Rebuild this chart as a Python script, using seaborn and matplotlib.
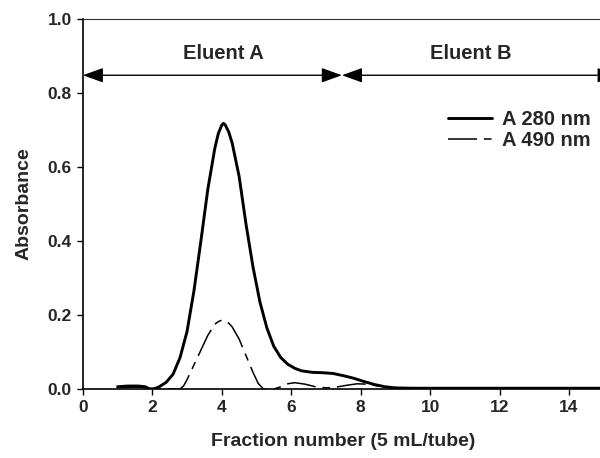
import matplotlib
matplotlib.use('Agg')
import matplotlib.pyplot as plt
import seaborn as sns
import pandas as pd

# A 280 nm trace (solid)
fraction_280 = [1.0, 1.3, 1.6, 1.8, 1.9, 2.0, 2.1, 2.2, 2.4, 2.6, 2.8, 3.0, 3.2, 3.4,
                3.6, 3.8, 3.9, 4.0, 4.05, 4.1, 4.2, 4.3, 4.5, 4.7, 4.9, 5.1, 5.3,
                5.5, 5.7, 5.9, 6.1, 6.3, 6.6, 6.9, 7.2, 7.5, 7.8, 8.1, 8.4, 8.7,
                9.0, 9.5, 10, 11, 12, 13, 14, 15]
abs_280 = [0.006, 0.008, 0.008, 0.006, 0.001, 0.0, 0.002, 0.006, 0.018, 0.040, 0.085,
           0.155, 0.265, 0.400, 0.540, 0.650, 0.690, 0.713, 0.718, 0.714, 0.695,
           0.665, 0.575, 0.445, 0.330, 0.235, 0.165, 0.115, 0.085, 0.067, 0.056,
           0.049, 0.045, 0.044, 0.042, 0.036, 0.029, 0.020, 0.012, 0.006, 0.003,
           0.002, 0.002, 0.002, 0.002, 0.002, 0.002, 0.002]

# A 490 nm trace (dashed)
fraction_490 = [1.0, 1.5, 1.8, 2.0, 2.5, 2.8, 2.9, 3.0, 3.2, 3.4, 3.6, 3.8, 3.9, 4.0,
                4.1, 4.2, 4.3, 4.5, 4.7, 4.9, 5.05, 5.2, 5.5, 5.7, 5.9, 6.1, 6.4,
                6.7, 7.0, 7.3, 7.6, 7.9, 8.2, 8.5, 8.8, 9.1, 10, 11, 12, 13, 14, 15]
abs_490 = [0.004, 0.005, 0.004, 0.0, 0.0, 0.0, 0.008, 0.025, 0.065, 0.105, 0.145,
           0.175, 0.182, 0.186, 0.184, 0.178, 0.168, 0.135, 0.090, 0.045, 0.015,
           0.0, 0.0, 0.006, 0.014, 0.017, 0.013, 0.006, 0.003, 0.005, 0.010,
           0.014, 0.013, 0.008, 0.004, 0.001, 0.001, 0.001, 0.001, 0.001, 0.001,
           0.001]

x_ticks = [0, 2, 4, 6, 8, 10, 12, 14]
y_ticks = [0.0, 0.2, 0.4, 0.6, 0.8, 1.0]

eluent_labels = ['Eluent A', 'Eluent B']
eluent_starts = [0.0, 7.46]
eluent_ends = [7.46, 15.4]
eluent_label_x = [4.06, 11.16]
eluent_level = 0.848

sns.set_theme(style='ticks')
plt.rcParams['font.family'] = ['Liberation Sans', 'DejaVu Sans']
plt.rcParams['font.weight'] = 'bold'

df = pd.concat([
    pd.DataFrame({'fraction': fraction_280, 'absorbance': abs_280, 'trace': 'A 280 nm'}),
    pd.DataFrame({'fraction': fraction_490, 'absorbance': abs_490, 'trace': 'A 490 nm'}),
])

fig = plt.figure(figsize=(6, 4.58), dpi=100)
ax = fig.add_axes([0.138, 0.1507, 0.8683, 0.8078])

sns.lineplot(data=df[df['trace'] == 'A 280 nm'], x='fraction', y='absorbance',
             color='black', linewidth=2.1, sort=False, ax=ax, label='A 280 nm')
sns.lineplot(data=df[df['trace'] == 'A 490 nm'], x='fraction', y='absorbance',
             color='black', linewidth=1.1, sort=False, ax=ax, label='A 490 nm',
             linestyle=(0, (19, 4.5, 5, 4.5)))

ax.set_xlim(0, 15)
ax.set_ylim(0, 1.0)
ax.set_xticks(x_ticks)
ax.set_yticks(y_ticks)
ax.set_yticklabels([f'{v:.1f}' for v in y_ticks])
ax.tick_params(direction='out', length=4, width=1, labelsize=12.5, pad=4, color='black')
for lab in ax.get_xticklabels() + ax.get_yticklabels():
    lab.set_fontweight('bold')

for side in ['left', 'bottom']:
    ax.spines[side].set_linewidth(1.2)
    ax.spines[side].set_color('black')
ax.spines['top'].set_linewidth(0.8)
ax.spines['top'].set_color('#333333')
ax.spines['right'].set_visible(False)

ax.set_xlabel('Fraction number (5 mL/tube)', fontsize=14, fontweight='bold', labelpad=13)
ax.set_ylabel('Absorbance', fontsize=14, fontweight='bold', labelpad=11)

# eluent arrows and labels
for lab, x0, x1, xl in zip(eluent_labels, eluent_starts, eluent_ends, eluent_label_x):
    ax.annotate('', xy=(x0, eluent_level), xytext=(x1, eluent_level),
                arrowprops=dict(arrowstyle='<|-|>,head_length=1.25,head_width=0.45',
                                color='black', lw=1.0, shrinkA=0, shrinkB=0,
                                mutation_scale=10),
                annotation_clip=False)
    ax.text(xl, 0.908, lab, ha='center', va='center', fontsize=14.5, fontweight='bold')

leg = ax.legend(loc='upper left', bbox_to_anchor=(448 / 600, 1 - 110 / 458),
                bbox_transform=fig.transFigure, frameon=False, fontsize=14.5,
                handlelength=2.2, handletextpad=0.5, labelspacing=0.12,
                borderpad=0, borderaxespad=0)
for t in leg.get_texts():
    t.set_fontweight('bold')

fig.savefig('out.png', dpi=100)
